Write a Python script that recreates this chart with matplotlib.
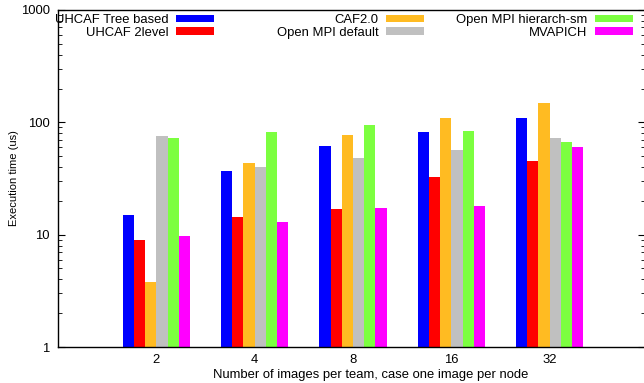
import numpy as np
import matplotlib
matplotlib.use("Agg")
import matplotlib.pyplot as plt
from matplotlib.ticker import LogLocator, NullFormatter, FuncFormatter

plt.rcParams['font.family'] = ['Liberation Sans', 'DejaVu Sans']

# data
groups = ["2", "4", "8", "16", "32"]
series = ["UHCAF Tree based", "UHCAF 2level", "CAF2.0",
          "Open MPI default", "Open MPI hierarch-sm", "MVAPICH"]
colors = ["#0000ff", "#ff0000", "#ffbb22", "#c0c0c0", "#7cff40", "#ff00ff"]

uhcaf_tree = [14.9, 36.7, 61.6, 81.5, 108.6]
uhcaf_2level = [8.9, 14.3, 16.9, 32.5, 45.3]
caf20 = [3.8, 43.2, 77.7, 108.6, 148.5]
ompi_default = [75.5, 39.8, 47.9, 56.7, 72.1]
ompi_hier = [72.5, 81.5, 94.0, 83.2, 66.4]
mvapich = [9.8, 12.9, 17.3, 18.0, 60.3]

values = [uhcaf_tree, uhcaf_2level, caf20, ompi_default, ompi_hier, mvapich]


def main():
    fig = plt.figure(figsize=(6.44, 3.83), dpi=100)
    ax = fig.add_axes([58 / 644, 36 / 383, 587 / 644, 337 / 383])

    x = np.arange(len(groups))
    w = 0.114
    bars = []
    for i, (vals, c) in enumerate(zip(values, colors)):
        b = ax.bar(x + (i - 2.5) * w, vals, w, color=c, linewidth=0)
        bars.append(b)

    ax.set_yscale("log")
    ax.set_ylim(1, 1000)
    ax.set_xlim(-1.0, 4.97)
    ax.set_xticks(x)
    ax.set_xticklabels(groups)
    ax.yaxis.set_major_locator(LogLocator(base=10))
    ax.yaxis.set_major_formatter(FuncFormatter(lambda v, p: "%g" % v))
    ax.yaxis.set_minor_locator(LogLocator(base=10, subs=np.arange(2, 10)))
    ax.yaxis.set_minor_formatter(NullFormatter())
    ax.tick_params(axis="y", which="both", direction="in", right=True,
                   labelsize=9.4, pad=6)
    ax.tick_params(axis="y", which="major", length=5)
    ax.tick_params(axis="y", which="minor", length=3)
    ax.tick_params(axis="x", length=0, labelsize=9.4, pad=5)
    for s in ax.spines.values():
        s.set_linewidth(1.0)

    ax.set_ylabel("Execution time (us)", fontsize=8)
    ax.yaxis.set_label_coords(-0.066, 0.5)
    ax.set_xlabel("Number of images per team, case one image per node", fontsize=9.4)
    ax.xaxis.set_label_coords(0.532, -0.065)

    # gnuplot style key: three fixed-width columns, text then swatch
    rights = [214 / 644, 424 / 644, 633 / 644]
    for k, r in enumerate(rights):
        h = bars[2 * k:2 * k + 2]
        lab = series[2 * k:2 * k + 2]
        leg = fig.legend(h, lab, loc="upper right", bbox_to_anchor=(r, 1 - 14 / 383),
                         frameon=False, markerfirst=False, fontsize=9.4,
                         handlelength=2.9, handleheight=0.45, handletextpad=0.6,
                         labelspacing=0.05, borderpad=0, borderaxespad=0)
        for t in leg.get_texts():
            t.set_ha("right")

    fig.savefig("out.png", dpi=100)


if __name__ == "__main__":
    main()
